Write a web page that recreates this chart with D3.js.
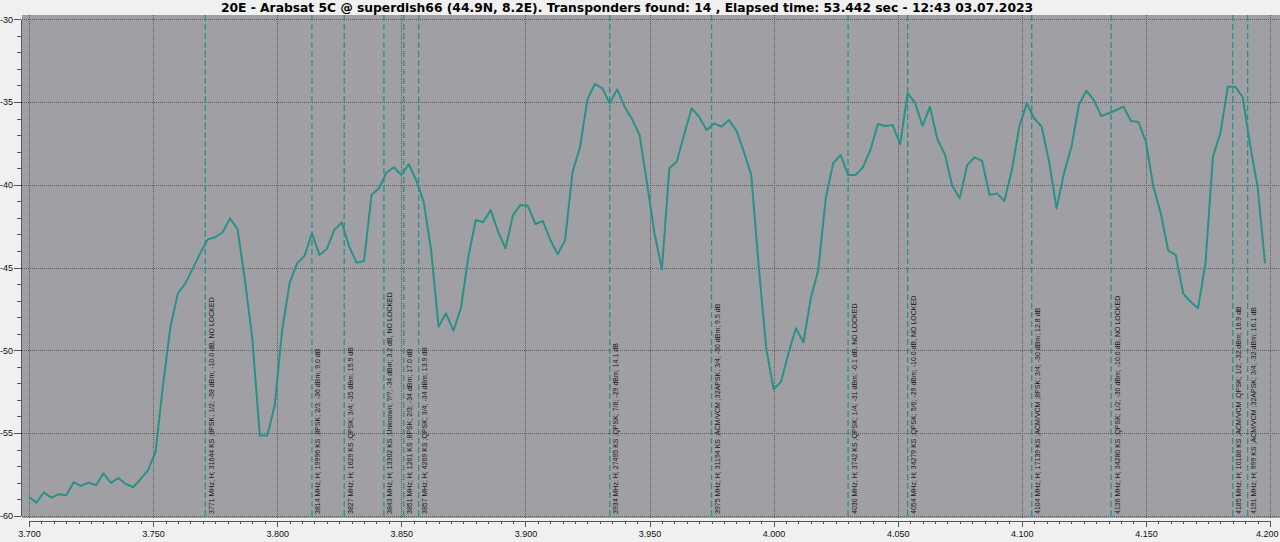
<!DOCTYPE html>
<html><head><meta charset="utf-8">
<script src="https://cdn.jsdelivr.net/npm/d3@7/dist/d3.min.js"></script>
<style>html,body{margin:0;padding:0;background:#f0f0f0;overflow:hidden}</style>
</head><body>
<svg id="chart" width="1280" height="542"></svg>
<script>
// ---------- data ----------
const titleText = "20E - Arabsat 5C @ superdish66 (44.9N, 8.2E). Transponders found: 14 , Elapsed time: 53.442 sec - 12:43 03.07.2023";

// sweep frequencies (MHz)
const sweepMHz = [
  3700,3703,3706,3709,3712,3715,3718,3721,3724,3727,
  3730,3733,3736,3739,3742,3745,3748,3751,3754,3757,
  3760,3763,3766,3769,3772,3775,3778,3781,3784,3787,
  3790,3793,3796,3799,3802,3805,3808,3811,3814,3817,
  3820,3823,3826,3829,3832,3835,3838,3841,3844,3847,
  3850,3853,3856,3859,3862,3865,3868,3871,3874,3877,
  3880,3883,3886,3889,3892,3895,3898,3901,3904,3907,
  3910,3913,3916,3919,3922,3925,3928,3931,3934,3937,
  3940,3943,3946,3949,3952,3955,3958,3961,3964,3967,
  3970,3973,3976,3979,3982,3985,3988,3991,3994,3997,
  4000,4003,4006,4009,4012,4015,4018,4021,4024,4027,
  4030,4033,4036,4039,4042,4045,4048,4051,4054,4057,
  4060,4063,4066,4069,4072,4075,4078,4081,4084,4087,
  4090,4093,4096,4099,4102,4105,4108,4111,4114,4117,
  4120,4123,4126,4129,4132,4135,4138,4141,4144,4147,
  4150,4153,4156,4159,4162,4165,4168,4171,4174,4177,
  4180,4183,4186,4189,4192,4195,4198
];
// measured level (dBm)
const levelDbm = [
  -58.85,-59.21,-58.59,-58.91,-58.71,-58.77,-57.98,-58.2,-58.0,-58.16,
  -57.44,-58.02,-57.72,-58.08,-58.28,-57.78,-57.24,-56.13,-52.1,-48.58,
  -46.56,-45.95,-45.05,-44.14,-43.3,-43.17,-42.87,-42.03,-42.67,-45.76,
  -49.34,-55.16,-55.16,-53.33,-48.78,-45.95,-44.75,-44.3,-42.93,-44.24,
  -43.88,-42.73,-42.27,-43.74,-44.71,-44.61,-40.62,-40.21,-39.27,-38.94,
  -39.41,-38.76,-39.71,-41.02,-43.94,-48.58,-47.77,-48.82,-47.47,-44.37,
  -42.13,-42.27,-41.52,-42.84,-43.84,-41.83,-41.22,-41.27,-42.37,-42.19,
  -43.32,-44.2,-43.34,-39.21,-37.74,-34.83,-33.91,-34.17,-35.08,-34.23,
  -35.28,-36.04,-36.99,-39.91,-42.93,-45.11,-39.0,-38.6,-36.95,-35.38,
  -35.89,-36.69,-36.29,-36.49,-36.09,-36.73,-38.0,-39.41,-44.91,-49.86,
  -52.36,-51.9,-50.17,-48.67,-49.52,-46.86,-45.15,-40.82,-38.7,-38.2,
  -39.41,-39.41,-38.94,-37.9,-36.33,-36.45,-36.39,-37.54,-34.47,-35.04,
  -36.45,-35.28,-37.25,-38.16,-40.07,-40.82,-38.81,-38.34,-38.56,-40.62,
  -40.52,-40.98,-39.11,-36.49,-35.08,-35.98,-36.49,-38.61,-41.42,-39.31,
  -37.7,-35.18,-34.31,-34.88,-35.84,-35.68,-35.48,-35.28,-36.15,-36.21,
  -37.4,-40.12,-41.72,-43.98,-44.24,-46.56,-47.07,-47.47,-44.75,-38.3,
  -36.89,-34.07,-34.07,-34.71,-37.6,-40.12,-44.75
];

const xMajorTicks = [3700,3750,3800,3850,3900,3950,4000,4050,4100,4150,4200];
const xTickLabels = ["3.700","3.750","3.800","3.850","3.900","3.950","4.000","4.050","4.100","4.150","4.200"];
const yMajorTicks = [-30,-35,-40,-45,-50,-55,-60];
const yTickLabels = ["-30","-35","-40","-45","-50","-55","-60"];

const tpFreq = [3771,3814,3827,3843,3851,3857,3934,3975,4030,4054,4104,4136,4185,4191];
const tpText = [
  "3771 MHz; H; 31644 KS ;8PSK; 1/2; -38 dBm; -10.0 dB, NO LOCKED",
  "3814 MHz; H; 19996 KS ;8PSK; 2/3; -36 dBm; 9.0 dB",
  "3827 MHz; H; 1629 KS ;QPSK; 3/4; -35 dBm; 15.9 dB",
  "3843 MHz; H; 13302 KS ;Unknown; ?/?; -34 dBm; 3.2 dB, NO LOCKED",
  "3851 MHz; H; 1261 KS ;8PSK; 2/3; -34 dBm; 17.0 dB",
  "3857 MHz; H; 4269 KS ;QPSK; 3/4; -34 dBm; 13.9 dB",
  "3934 MHz; H; 27495 KS ;QPSK; 7/8; -29 dBm; 14.1 dB",
  "3975 MHz; H; 31194 KS ;ACM/VCM ;32APSK; 3/4; -30 dBm; 9.5 dB",
  "4030 MHz; H; 3742 KS ;QPSK; 1/4; -31 dBm; -0.1 dB, NO LOCKED",
  "4054 MHz; H; 34279 KS ;QPSK; 5/6; -29 dBm; -10.0 dB, NO LOCKED",
  "4104 MHz; H; 17139 KS ;ACM/VCM ;8PSK; 3/4; -30 dBm; 12.8 dB",
  "4136 MHz; H; 34280 KS ;QPSK; 1/2; -30 dBm; -10.0 dB, NO LOCKED",
  "4185 MHz; H; 10188 KS ;ACM/VCM ;QPSK; 1/2; -32 dBm; 16.9 dB",
  "4191 MHz; H; 999 KS ;ACM/VCM ;32APSK; 3/4; -32 dBm; 16.1 dB"
];

// ---------- drawing ----------
const svg = d3.select("#chart");
const plot = {left: 22, right: 1280, top: 15, bottom: 518};
const x = d3.scaleLinear().domain([3700, 4200]).range([29, 1270]);
const y = d3.scaleLinear().domain([-60, -30]).range([515.7, 19.3]);

const lineColor = "#2a9189";
const gridColor = "#5c5c5c";

// background of plot
svg.append("rect")
  .attr("x", plot.left).attr("y", plot.top)
  .attr("width", plot.right - plot.left).attr("height", plot.bottom - plot.top)
  .attr("fill", "#a0a0a4");

// grid
const grid = svg.append("g").attr("shape-rendering", "crispEdges");
grid.selectAll("line.vg").data(xMajorTicks).join("line")
  .attr("x1", d => Math.round(x(d)) + 0.5).attr("x2", d => Math.round(x(d)) + 0.5)
  .attr("y1", plot.top).attr("y2", plot.bottom)
  .attr("stroke", gridColor).attr("stroke-width", 1).attr("stroke-dasharray", "1,1");
grid.selectAll("line.hg").data(yMajorTicks).join("line")
  .attr("x1", plot.left).attr("x2", plot.right)
  .attr("y1", d => Math.round(y(d)) + 0.5).attr("y2", d => Math.round(y(d)) + 0.5)
  .attr("stroke", gridColor).attr("stroke-width", 1).attr("stroke-dasharray", "1,1");

// transponder markers
const tp = svg.append("g");
tp.selectAll("line").data(tpFreq).join("line")
  .attr("x1", d => x(d)).attr("x2", d => x(d))
  .attr("y1", plot.top).attr("y2", plot.bottom)
  .attr("stroke", lineColor).attr("stroke-width", 1.3)
  .attr("stroke-dasharray", "6,3");
tp.selectAll("text").data(tpFreq).join("text")
  .attr("transform", d => `translate(${x(d) + 8.5},514) rotate(-90)`)
  .attr("text-anchor", "start")
  .attr("font-family", "Liberation Sans, Arial, sans-serif")
  .attr("font-size", "7px")
  .attr("fill", "#161616")
  .text((d, i) => tpText[i]);

// spectrum line
const pts = sweepMHz.map((f, i) => [f, levelDbm[i]]);
svg.append("path")
  .datum(pts)
  .attr("fill", "none")
  .attr("stroke", lineColor)
  .attr("stroke-width", 2)
  .attr("stroke-linejoin", "round")
  .attr("d", d3.line().x(d => x(d[0])).y(d => y(d[1])));

// y axis
const yMinor = d3.range(-60, -29).filter(v => v % 5 !== 0);
const yAxisG = svg.append("g").attr("transform", "translate(21,0)");
yAxisG.call(d3.axisLeft(y).tickValues(yMajorTicks).tickSize(7).tickSizeOuter(0).tickPadding(1)
  .tickFormat((d, i) => yTickLabels[i]));
yAxisG.append("g").call(d3.axisLeft(y).tickValues(yMinor).tickSize(4).tickSizeOuter(0).tickFormat(""))
  .select(".domain").remove();

// x axis
const xMinor = [];
for (let i = 0; i < xMajorTicks.length - 1; i++) {
  for (let k = 1; k < 10; k++) xMinor.push(xMajorTicks[i] + k * 5);
}
const xAxisG = svg.append("g").attr("transform", "translate(0,521)");
xAxisG.call(d3.axisBottom(x).tickValues(xMajorTicks).tickSize(6).tickSizeOuter(0).tickPadding(4)
  .tickFormat((d, i) => xTickLabels[i]));
xAxisG.append("g").call(d3.axisBottom(x).tickValues(xMinor).tickSize(3).tickSizeOuter(0).tickFormat(""))
  .select(".domain").remove();
// keep the last label inside the window
xAxisG.selectAll(".tick text").filter(d => d === 4200)
  .attr("text-anchor", "end").attr("x", 8);

svg.selectAll(".tick text")
  .attr("font-family", "Liberation Sans, Arial, sans-serif")
  .attr("font-size", "9px")
  .attr("fill", "#111");
svg.selectAll(".domain, .tick line").attr("stroke", "#555").attr("shape-rendering", "crispEdges");

// title
svg.append("text")
  .attr("x", 627).attr("y", 12)
  .attr("text-anchor", "middle")
  .attr("font-family", "DejaVu Sans, sans-serif")
  .attr("font-weight", "bold")
  .attr("font-size", "12.3px")
  .attr("fill", "#000")
  .text(titleText);
</script>
</body></html>
